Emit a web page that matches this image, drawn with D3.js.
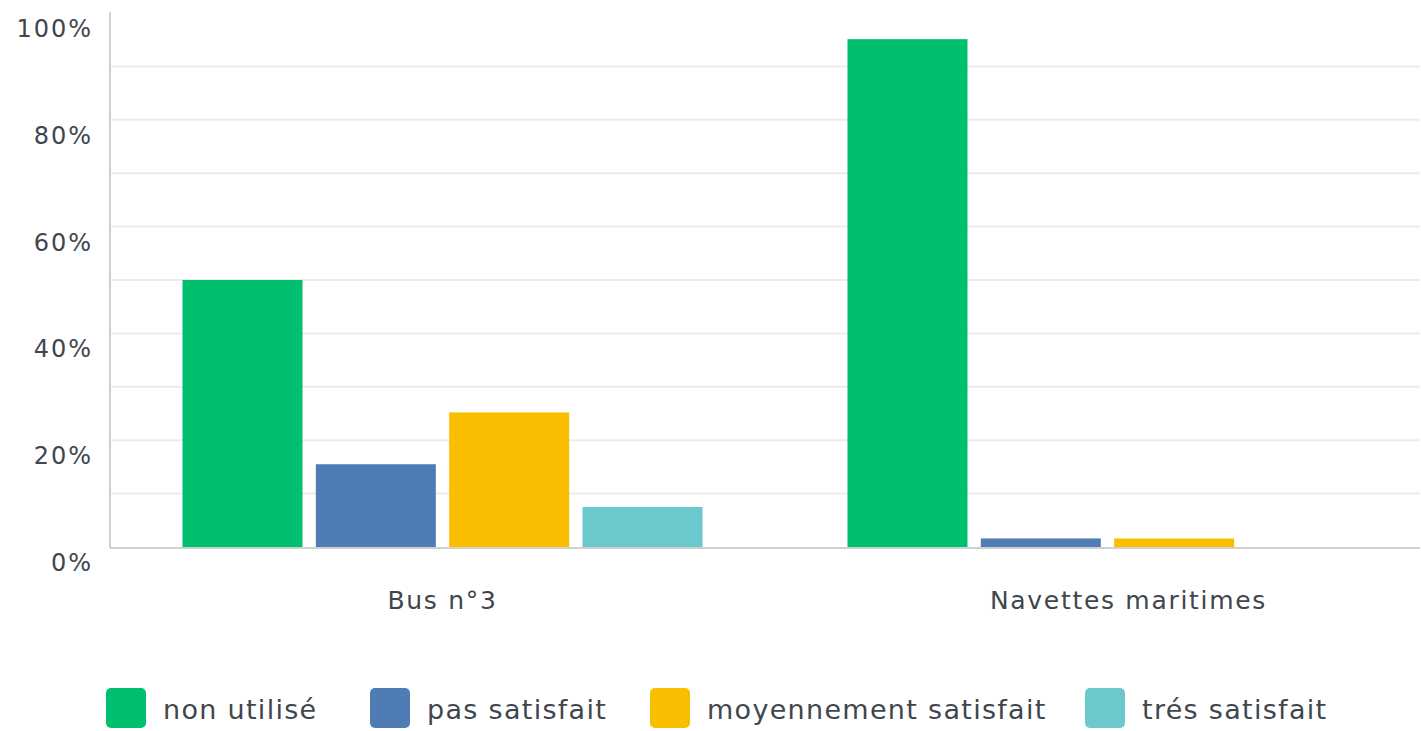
<!DOCTYPE html>
<html>
<head>
<meta charset="utf-8">
<script src="https://cdn.jsdelivr.net/npm/d3@7"></script>
<style>
  body { margin: 0; background: #fff; }
  svg { display: block; font-family: "DejaVu Sans", sans-serif; }
  .tick-label { fill: #3f464d; font-size: 24px; letter-spacing: 2px; }
  .cat-label { fill: #3f464d; font-size: 25px; letter-spacing: 1.7px; }
  .legend text { fill: #3f464d; font-size: 27px; letter-spacing: 1.3px; }
</style>
</head>
<body>
<svg width="1421" height="731"></svg>
<script>
const categories = ["Bus n°3", "Navettes maritimes"];
const seriesNames = ["non utilisé", "pas satisfait", "moyennement satisfait", "trés satisfait"];
const colors = ["#00bf6f", "#507cb6", "#f9be00", "#6bc8cd"];
// percentages, one array per category
const busValues = [50, 15.5, 25.2, 7.5];
const navetteValues = [95.1, 1.6, 1.6, 0];
const yTicks = [0, 20, 40, 60, 80, 100];
const gridTicks = [10, 20, 30, 40, 50, 60, 70, 80, 90];

const rows = categories.map((c, i) => ({
  cat: c,
  values: [busValues, navetteValues][i]
}));

const svg = d3.select("svg");
const plotLeft = 110, plotRight = 1420, plotTop = 13, plotBottom = 547;

const y = d3.scaleLinear().domain([0, 100]).range([plotBottom, plotTop]);
const x0 = d3.scaleBand().domain(categories).range([110, 1440])
  .paddingInner(0.218).paddingOuter(0.109);
const x1 = d3.scaleBand().domain(seriesNames).range([0, x0.bandwidth()])
  .paddingInner(0.1);

// grid
svg.append("g").selectAll("line")
  .data(gridTicks)
  .enter().append("line")
  .attr("x1", plotLeft).attr("x2", plotRight)
  .attr("y1", d => y(d)).attr("y2", d => y(d))
  .attr("stroke", "#ececec").attr("stroke-width", 2);

// y labels (sit a little below their gridline)
svg.append("g").selectAll("text")
  .data(yTicks)
  .enter().append("text")
  .attr("class", "tick-label")
  .attr("x", 93)
  .attr("y", d => y(d) + 24)
  .attr("text-anchor", "end")
  .text(d => d + "%");

// bars
const groups = svg.append("g").selectAll("g")
  .data(rows)
  .enter().append("g")
  .attr("transform", d => `translate(${x0(d.cat)},0)`);

groups.selectAll("rect")
  .data(d => d.values.map((v, i) => ({ key: seriesNames[i], v: v, i: i })))
  .enter().append("rect")
  .attr("x", d => x1(d.key))
  .attr("width", x1.bandwidth())
  .attr("y", d => y(d.v))
  .attr("height", d => plotBottom - y(d.v))
  .attr("fill", d => colors[d.i]);

// axes lines
svg.append("line")
  .attr("x1", plotLeft).attr("x2", plotLeft).attr("y1", plotTop - 1).attr("y2", plotBottom + 1)
  .attr("stroke", "#d0d0d0").attr("stroke-width", 2);
svg.append("line")
  .attr("x1", plotLeft).attr("x2", plotRight).attr("y1", plotBottom + 1).attr("y2", plotBottom + 1)
  .attr("stroke", "#d0d0d0").attr("stroke-width", 2);

// category labels
svg.append("g").selectAll("text")
  .data(categories)
  .enter().append("text")
  .attr("class", "cat-label")
  .attr("x", (d, i) => x0(d) + x0.bandwidth() / 2 + (i === 1 ? 21 : 0))
  .attr("y", 609)
  .attr("text-anchor", "middle")
  .text(d => d);

// legend
const legendX = [106, 370, 650, 1085];
const legend = svg.append("g").attr("class", "legend");
seriesNames.forEach((name, i) => {
  const g = legend.append("g").attr("transform", `translate(${legendX[i]},688)`);
  g.append("rect").attr("width", 40).attr("height", 40).attr("rx", 5)
    .attr("fill", colors[i]);
  g.append("text").attr("x", 57).attr("y", 31).text(name);
});
</script>
</body>
</html>
